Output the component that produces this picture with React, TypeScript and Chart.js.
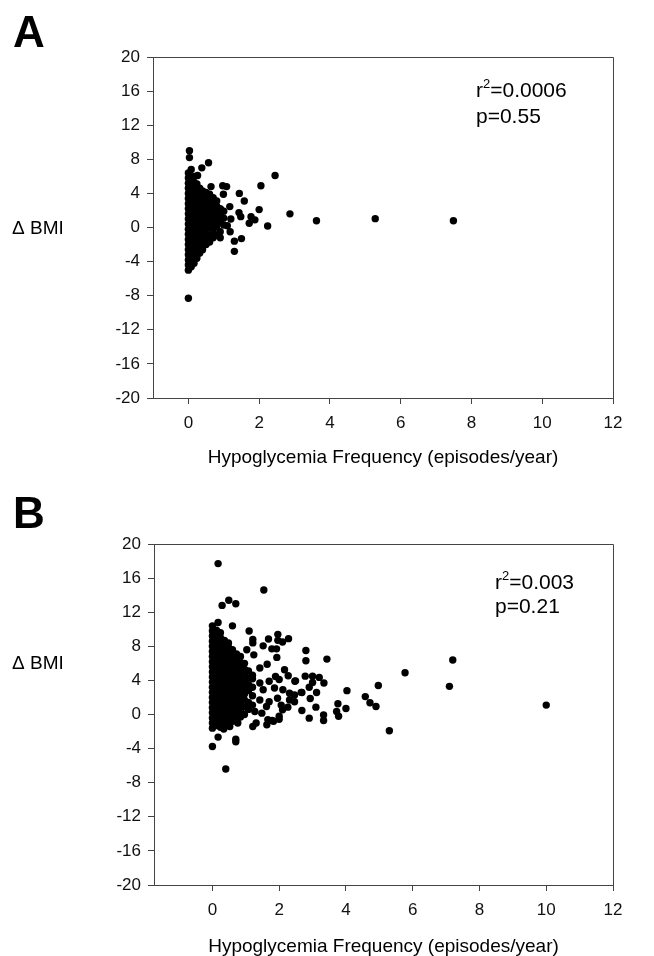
import { useEffect, useRef } from "react";
import { Chart, registerables } from "chart.js";
Chart.register(...registerables);

const xTickValues = [0, 2, 4, 6, 8, 10, 12];
const yTickValues = [20, 16, 12, 8, 4, 0, -4, -8, -12, -16, -20];
const xTitle = "Hypoglycemia Frequency (episodes/year)";
const yTitle = "Δ BMI";
const panelLetters = ["A", "B"];
const statsA = ["0.0006", "0.55"];
const statsB = ["0.003", "0.21"];

// Panel A: dense mass near zero frequency, read column by column
const clusterColumnsA: [number, number[]][] = [
  [0.0, [-5.0, -4.4, -3.8, -3.2, -2.6, -2.0, -1.4, -0.8, -0.2, 0.4, 1.0, 1.6, 2.2, 2.8, 3.4, 4.0, 4.6, 5.2, 5.8, 6.4]],
  [0.08, [-4.6, -3.9, -3.1, -2.3, -1.5, -0.7, 0.1, 0.9, 1.7, 2.5, 3.3, 4.1, 4.9, 5.7]],
  [0.16, [-4.2, -3.5, -2.7, -1.9, -1.1, -0.3, 0.5, 1.3, 2.1, 2.9, 3.7, 4.5, 5.3, 6.0]],
  [0.24, [-3.6, -2.9, -2.1, -1.3, -0.5, 0.3, 1.1, 1.9, 2.7, 3.5, 4.3, 5.1]],
  [0.32, [-3.0, -2.4, -1.7, -0.9, -0.1, 0.7, 1.5, 2.3, 3.1, 3.9, 4.6]],
  [0.4, [-2.6, -1.9, -1.1, -0.3, 0.5, 1.3, 2.1, 2.9, 3.7, 4.3]],
  [0.5, [-2.0, -1.4, -0.6, 0.2, 1.0, 1.8, 2.6, 3.4, 4.1]],
  [0.6, [-1.7, -0.9, 0.0, 0.8, 1.6, 2.4, 3.2, 3.9]],
  [0.7, [-1.2, -0.4, 0.4, 1.2, 2.0, 2.8, 3.5]],
  [0.8, [-0.9, 0.1, 0.9, 1.7, 2.5, 3.1]],
  [0.9, [-0.5, 0.6, 1.4, 2.2]],
  [1.0, [0.3, 1.1, 1.9]],
];

const scatterA: [number, number][] = [
  [0.03, 9.0], [0.03, 8.2], [0.08, 6.8], [0.38, 7.0], [0.57, 7.6], [0.26, 6.1],
  [2.45, 6.1], [2.05, 4.9], [0.97, 4.9], [1.08, 4.8], [0.64, 4.8], [0.99, 3.9],
  [1.44, 4.0], [1.58, 3.1], [1.17, 2.45], [0.92, 2.1], [2.0, 2.1], [2.87, 1.6],
  [1.43, 1.75], [1.48, 1.27], [1.77, 1.27], [1.88, 0.9], [1.72, 0.5], [2.24, 0.18],
  [3.62, 0.8], [5.28, 1.04], [7.49, 0.8], [1.3, -1.6], [1.5, -1.3], [1.3, -2.8],
  [1.18, -0.5], [0.3, -3.0], [0.0, -8.3], [1.2, 1.0], [1.1, 0.2], [0.9, -1.2],
];

// Panel B
const clusterColumnsB: [number, number[]][] = [
  [0.0, [-1.6, -1.0, -0.4, 0.2, 0.8, 1.4, 2.0, 2.6, 3.2, 3.8, 4.4, 5.0, 5.6, 6.2, 6.8, 7.4, 8.0, 8.6, 9.2, 9.8, 10.4]],
  [0.12, [-1.3, -0.6, 0.1, 0.8, 1.5, 2.2, 2.9, 3.6, 4.3, 5.0, 5.7, 6.4, 7.1, 7.8, 8.5, 9.2, 9.9]],
  [0.24, [-1.5, -0.8, -0.1, 0.6, 1.3, 2.0, 2.7, 3.4, 4.1, 4.8, 5.5, 6.2, 6.9, 7.6, 8.3, 9.0, 9.6]],
  [0.36, [-1.1, -0.4, 0.3, 1.0, 1.7, 2.4, 3.1, 3.8, 4.5, 5.2, 5.9, 6.6, 7.3, 8.0, 8.7]],
  [0.48, [-1.2, -0.5, 0.2, 0.9, 1.6, 2.3, 3.0, 3.7, 4.4, 5.1, 5.8, 6.5, 7.2, 7.9, 8.4]],
  [0.6, [-0.8, -0.1, 0.6, 1.3, 2.0, 2.7, 3.4, 4.1, 4.8, 5.5, 6.2, 6.9, 7.6]],
  [0.72, [-0.6, 0.1, 0.8, 1.5, 2.2, 2.9, 3.6, 4.3, 5.0, 5.7, 6.4, 7.1]],
  [0.84, [-0.3, 0.5, 1.2, 1.9, 2.6, 3.3, 4.0, 4.7, 5.4, 6.1, 6.8]],
  [0.96, [0.0, 0.9, 1.7, 2.4, 3.1, 3.8, 4.6, 5.3, 6.0]],
  [1.08, [0.6, 1.4, 2.8, 3.5, 4.3, 5.1]],
  [1.2, [1.1, 2.2, 3.2, 4.6]],
];

const scatterB: [number, number][] = [
  [0.17, 17.7], [1.54, 14.6], [0.29, 12.8], [0.49, 13.4], [0.7, 13.0], [0.17, 10.8],
  [0.6, 10.4], [1.1, 9.8], [1.21, 8.8], [1.21, 8.4], [1.68, 8.85], [1.96, 9.4],
  [1.96, 8.7], [2.28, 8.9], [2.1, 8.5], [1.52, 8.05], [1.78, 7.7], [1.92, 7.7],
  [1.03, 7.6], [1.24, 7.0], [1.93, 6.7], [1.64, 5.9], [2.8, 7.5], [2.8, 6.3],
  [3.43, 6.5], [2.16, 5.25], [1.42, 5.45], [2.27, 4.55], [2.47, 3.9], [1.89, 4.45],
  [2.0, 4.1], [1.7, 3.9], [1.42, 3.7], [1.2, 4.2], [1.52, 2.9], [1.86, 3.1],
  [2.11, 2.9], [2.31, 2.5], [2.46, 2.3], [2.66, 2.6], [2.31, 1.7], [2.46, 1.5],
  [1.42, 1.7], [1.7, 1.5], [1.95, 1.9], [2.06, 1.1], [1.62, 0.94], [1.27, 0.35],
  [1.48, 0.16], [2.1, 0.55], [2.26, 0.86], [1.66, -0.6], [1.83, -0.8], [2.0, -0.55],
  [1.31, -1.0], [1.21, -1.4], [0.76, -1.0], [0.52, -1.4], [0.34, -1.7],
  [5.77, 4.9], [7.2, 6.4], [7.1, 3.3], [4.97, 3.4], [4.03, 2.8], [4.58, 2.1],
  [4.72, 1.37], [4.9, 0.94], [5.3, -1.9], [10.0, 1.1], [3.76, 1.26], [4.0, 0.7],
  [3.72, 0.35], [3.78, -0.2], [3.33, -0.05], [3.33, -0.7], [2.9, -0.43], [3.1, 0.86],
  [2.68, 0.47], [2.93, 1.88], [3.12, 2.58], [2.68, 2.58], [2.9, 3.2], [3.0, 3.76],
  [3.34, 3.7], [3.2, 4.35], [2.78, 4.5], [3.0, 4.5], [2.49, 3.95], [2.0, -0.2],
  [1.79, -0.7], [1.63, -1.2], [0.17, -2.65], [0.0, -3.75], [0.7, -2.9], [0.7, -3.2],
  [0.4, -6.4],
];

const FONT = '"Liberation Sans", Arial, Helvetica, sans-serif';
const W = 654;
const H = 478;

type Area = { left: number; right: number; top: number; bottom: number };
type PanelOpts = {
  letter: string;
  letterY: number;
  yTitleY: number;
  xTitleY: number;
  stats: string[];
  statsX: number;
  statsY: number;
  statsGap: number;
};

const panelText = {
  id: "panelText",
  afterDraw(chart: any, _args: any, opts: PanelOpts) {
    const ctx = chart.ctx as CanvasRenderingContext2D;
    const a = chart.chartArea;
    ctx.save();
    ctx.strokeStyle = "#444";
    ctx.lineWidth = 1;
    ctx.beginPath();
    ctx.moveTo(a.left, Math.round(a.top) + 0.5);
    ctx.lineTo(Math.round(a.right) + 0.5, Math.round(a.top) + 0.5);
    ctx.lineTo(Math.round(a.right) + 0.5, a.bottom);
    ctx.stroke();

    ctx.fillStyle = "#000";
    ctx.textBaseline = "alphabetic";
    ctx.textAlign = "left";
    ctx.font = `bold 44px ${FONT}`;
    ctx.fillText(opts.letter, 13, opts.letterY);

    ctx.font = `19px ${FONT}`;
    ctx.fillText(yTitle, 12, opts.yTitleY);

    ctx.textAlign = "center";
    ctx.fillText(xTitle, (a.left + a.right) / 2, opts.xTitleY);

    ctx.textAlign = "left";
    ctx.font = `21px ${FONT}`;
    let x = opts.statsX;
    ctx.fillText("r", x, opts.statsY);
    x += ctx.measureText("r").width;
    ctx.font = `13px ${FONT}`;
    ctx.fillText("2", x, opts.statsY - 9);
    x += ctx.measureText("2").width;
    ctx.font = `21px ${FONT}`;
    ctx.fillText("=" + opts.stats[0], x, opts.statsY);
    ctx.fillText("p=" + opts.stats[1], opts.statsX, opts.statsY + opts.statsGap);
    ctx.restore();
  },
};

function makeConfig(
  columns: [number, number[]][],
  scatter: [number, number][],
  xMin: number,
  area: Area,
  plug: PanelOpts
): any {
  const pts: { x: number; y: number }[] = [];
  columns.forEach(([cx, ys]) => ys.forEach((y) => pts.push({ x: cx, y })));
  scatter.forEach(([x, y]) => pts.push({ x, y }));
  const tickFont = { family: FONT, size: 17 };
  return {
    type: "scatter",
    data: {
      datasets: [
        {
          data: pts,
          pointRadius: 3.7,
          pointHoverRadius: 3.7,
          backgroundColor: "#000",
          borderWidth: 0,
        },
      ],
    },
    options: {
      animation: false,
      responsive: false,
      events: [],
      layout: { padding: { top: area.top, right: W - area.right, left: 0, bottom: 0 } },
      plugins: {
        legend: { display: false },
        tooltip: { enabled: false },
        panelText: plug,
      },
      scales: {
        x: {
          type: "linear",
          min: xMin,
          max: 12,
          afterBuildTicks: (s: any) => {
            s.ticks = xTickValues.map((v) => ({ value: v }));
          },
          afterFit: (s: any) => {
            s.height = H - area.bottom;
          },
          ticks: { font: tickFont, color: "#111", padding: 9, maxRotation: 0, autoSkip: false },
          grid: { display: true, drawOnChartArea: false, drawTicks: true, tickLength: 6, color: "#444" },
          border: { display: true, color: "#444", width: 1 },
        },
        y: {
          type: "linear",
          min: -20,
          max: 20,
          afterBuildTicks: (s: any) => {
            s.ticks = yTickValues.map((v) => ({ value: v }));
          },
          afterFit: (s: any) => {
            s.width = area.left;
          },
          ticks: { font: tickFont, color: "#111", padding: 7, autoSkip: false },
          grid: { display: true, drawOnChartArea: false, drawTicks: true, tickLength: 6, color: "#444" },
          border: { display: true, color: "#444", width: 1 },
        },
      },
    },
    plugins: [panelText],
  };
}

export default function App() {
  const refA = useRef<HTMLCanvasElement>(null);
  const refB = useRef<HTMLCanvasElement>(null);
  useEffect(() => {
    const chartA = new Chart(
      refA.current!,
      makeConfig(clusterColumnsA, scatterA, -1, { left: 153, right: 613, top: 57, bottom: 398 }, {
        letter: panelLetters[0],
        letterY: 47,
        yTitleY: 234,
        xTitleY: 463,
        stats: statsA,
        statsX: 476,
        statsY: 97,
        statsGap: 26,
      })
    );
    const chartB = new Chart(
      refB.current!,
      makeConfig(clusterColumnsB, scatterB, -1.75, { left: 154, right: 613, top: 66, bottom: 407 }, {
        letter: panelLetters[1],
        letterY: 50,
        yTitleY: 191,
        xTitleY: 474,
        stats: statsB,
        statsX: 495,
        statsY: 111,
        statsGap: 24,
      })
    );
    return () => {
      chartA.destroy();
      chartB.destroy();
    };
  }, []);
  return (
    <div style={{ position: "absolute", left: 0, top: 0, width: W, height: 2 * H, background: "#fff" }}>
      <canvas ref={refA} width={W} height={H} style={{ display: "block", width: W, height: H }} />
      <canvas ref={refB} width={W} height={H} style={{ display: "block", width: W, height: H }} />
    </div>
  );
}
